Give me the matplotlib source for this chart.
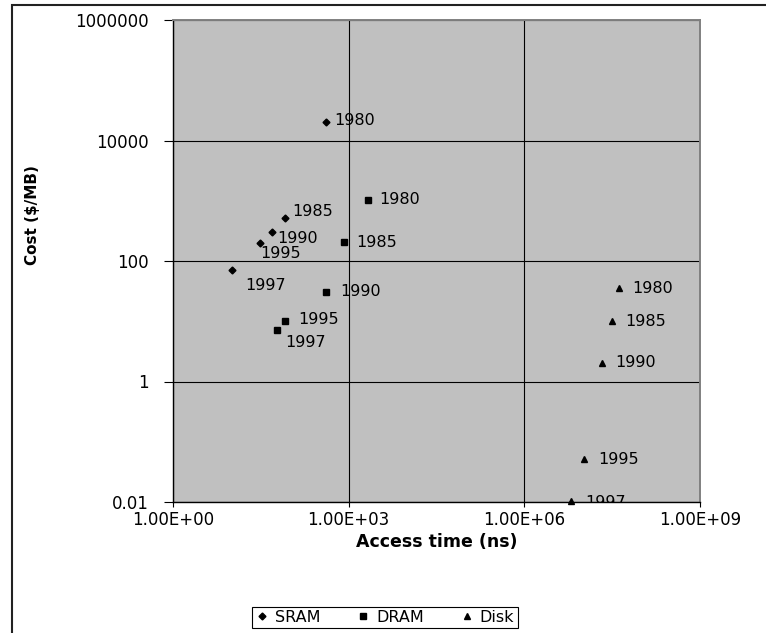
import matplotlib
matplotlib.use('Agg')
import matplotlib.pyplot as plt
from matplotlib.patches import Rectangle
from matplotlib.ticker import NullLocator

plt.rcParams['font.family'] = ['DejaVu Sans']

years = ['1980', '1985', '1990', '1995', '1997']

# access time (ns) and cost ($/MB)
sram_time = [415, 81, 50, 31, 10]
sram_cost = [20000, 510, 300, 200, 70]
dram_time = [2100, 820, 410, 82, 60]
dram_cost = [1030, 204, 31, 10.2, 7.2]
disk_time = [4.2e7, 3.2e7, 2.1e7, 1.04e7, 6.3e6]
disk_cost = [35, 10, 2.05, 0.051, 0.0105]

x_ticks = [1, 1e3, 1e6, 1e9]
x_labels = ['1.00E+00', '1.00E+03', '1.00E+06', '1.00E+09']
y_ticks = [0.01, 1, 100, 10000, 1000000]
y_labels = ['0.01', '1', '100', '10000', '1000000']

# label offsets in pixels (dx, dy) for each year label
sram_off = [(8, 2), (7, 7), (5, -6), (0, -11), (14, -15)]
dram_off = [(12, 0), (13, 0), (14, 0), (13, 1), (8, -13)]
disk_off = [(13, 0), (13, 0), (13, 0), (14, 0), (14, -2)]

fig = plt.figure(figsize=(7.66, 6.33), dpi=100)
ax = fig.add_axes([173 / 766, 1 - 502 / 633, 527 / 766, 482 / 633])
ax.set_xscale('log')
ax.set_yscale('log')
ax.set_xlim(1, 1e9)
ax.set_ylim(0.01, 1e6)
ax.set_facecolor('#c0c0c0')

ax.set_xticks(x_ticks)
ax.set_xticklabels(x_labels, fontsize=12)
ax.set_yticks(y_ticks)
ax.set_yticklabels(y_labels, fontsize=12)
ax.xaxis.set_minor_locator(NullLocator())
ax.yaxis.set_minor_locator(NullLocator())
ax.tick_params(axis='y', length=6.5, width=0.8, pad=11)
ax.tick_params(axis='x', length=3.6, width=0.8, pad=3)
ax.grid(True, color='black', lw=0.8)

for s in ['left', 'bottom']:
    ax.spines[s].set_color('black')
    ax.spines[s].set_linewidth(1.0)
for s in ['top', 'right']:
    ax.spines[s].set_color('#808080')
    ax.spines[s].set_linewidth(1.4)

series = [
    (sram_time, sram_cost, 'D', 3.5, 'SRAM', sram_off),
    (dram_time, dram_cost, 's', 4.5, 'DRAM', dram_off),
    (disk_time, disk_cost, '^', 5, 'Disk', disk_off),
]
for xs, ys, m, ms, name, offs in series:
    ax.plot(xs, ys, m, color='black', ms=ms, ls='none', label=name, clip_on=False)
    for x, y, yr, (dx, dy) in zip(xs, ys, years, offs):
        t = ax.annotate(yr, (x, y), xytext=(dx, dy), textcoords='offset pixels',
                        ha='left', va='center', fontsize=11.5)
        t.set_clip_box(ax.bbox)
        t.set_clip_on(True)

ax.set_xlabel('Access time (ns)', fontsize=12.5, fontweight='bold', va='center')
ax.xaxis.set_label_coords(0.5, (502 - 542) / 482)
ax.set_ylabel('Cost ($/MB)', fontsize=11, fontweight='bold', va='center')
ax.yaxis.set_label_coords((33 - 173) / 527, (502 - 215) / 482)

leg = fig.legend(loc='center', bbox_to_anchor=(385 / 766, 1 - 617.5 / 633), ncol=3,
                 frameon=True, fancybox=False, edgecolor='black', framealpha=1,
                 fontsize=11.5, handlelength=0.8, handletextpad=0.4,
                 columnspacing=2.3, borderpad=0.2)
leg.get_frame().set_linewidth(0.8)

border = Rectangle((12 / 766, -0.5), 2, 1.5 - 4.5 / 633, transform=fig.transFigure,
                   fill=False, lw=1.5, ec='#222222')
fig.add_artist(border)

fig.savefig('out.png', dpi=100)
